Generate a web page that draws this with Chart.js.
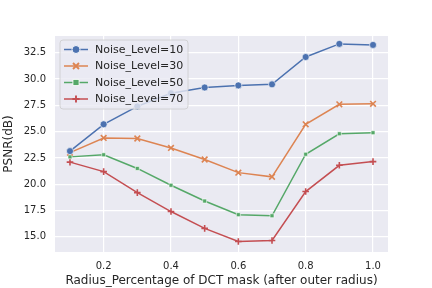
<!DOCTYPE html>
<html>
<head>
<meta charset="utf-8">
<script src="https://cdn.jsdelivr.net/npm/chart.js@4"></script>
<style>
  html, body { margin: 0; padding: 0; background: #fff; }
  #wrap { width: 432px; height: 288px; }
</style>
</head>
<body>
<div id="wrap"><canvas id="chart" width="432" height="288"></canvas></div>
<script>
// ── Data ──
const radius = [0.1, 0.2, 0.3, 0.4, 0.5, 0.6, 0.7, 0.8, 0.9, 1.0];
const noise10 = [23.15, 25.7, 27.4, 28.65, 29.2, 29.4, 29.5, 32.1, 33.35, 33.25];
const noise30 = [23.0, 24.4, 24.35, 23.45, 22.35, 21.1, 20.7, 25.7, 27.6, 27.65];
const noise50 = [22.6, 22.8, 21.5, 19.9, 18.4, 17.1, 17.0, 22.85, 24.8, 24.9];
const noise70 = [22.1, 21.2, 19.2, 17.4, 15.8, 14.55, 14.65, 19.3, 21.8, 22.15];
const xTicks = [0.2, 0.4, 0.6, 0.8, 1.0];
const yTicks = [15.0, 17.5, 20.0, 22.5, 25.0, 27.5, 30.0, 32.5];

const FONT = 'DejaVu Sans';
const TXT = '#262626';

const series = [
  { label: 'Noise_Level=10', data: noise10, color: '#4c72b0', style: 'circle', r: 3.5 },
  { label: 'Noise_Level=30', data: noise30, color: '#dd8452', style: 'crossRot', r: 4 },
  { label: 'Noise_Level=50', data: noise50, color: '#55a868', style: 'rect', r: 2.8 },
  { label: 'Noise_Level=70', data: noise70, color: '#c44e52', style: 'cross', r: 3.3 },
];

const isCross = s => s.style === 'cross' || s.style === 'crossRot';
const markerBorder = s => isCross(s) ? s.color : '#ffffff';
const markerWidth = s => isCross(s) ? 1.6 : 0.6;

// ── Plot background ──
const bgPlugin = {
  id: 'plotBg',
  beforeDraw(chart) {
    const { ctx, chartArea: a } = chart;
    ctx.save();
    ctx.fillStyle = '#eaeaf2';
    ctx.fillRect(a.left, a.top, a.right - a.left, a.bottom - a.top);
    ctx.restore();
  }
};

// ── Legend box drawn inside the plot, top-left ──
function roundRect(ctx, x, y, w, h, r) {
  ctx.beginPath();
  ctx.moveTo(x + r, y);
  ctx.arcTo(x + w, y, x + w, y + h, r);
  ctx.arcTo(x + w, y + h, x, y + h, r);
  ctx.arcTo(x, y + h, x, y, r);
  ctx.arcTo(x, y, x + w, y, r);
  ctx.closePath();
}
const legendPlugin = {
  id: 'boxLegend',
  afterDatasetsDraw(chart) {
    const { ctx, chartArea: a } = chart;
    const x0 = a.left + 5, y0 = a.top + 4;
    const w = 128, h = 69;
    ctx.save();
    roundRect(ctx, x0, y0, w, h, 3);
    ctx.fillStyle = 'rgba(234,234,242,0.8)';
    ctx.fill();
    ctx.strokeStyle = '#cccccc';
    ctx.lineWidth = 0.8;
    ctx.stroke();
    ctx.font = '11px ' + FONT;
    ctx.textBaseline = 'middle';
    series.forEach((s, i) => {
      const cy = y0 + 9.5 + i * 16.5;
      const mx = x0 + 16;
      ctx.strokeStyle = s.color;
      ctx.lineWidth = 1.5;
      ctx.beginPath();
      ctx.moveTo(x0 + 4, cy);
      ctx.lineTo(x0 + 28, cy);
      ctx.stroke();
      // marker, a touch larger than in the plot
      ctx.fillStyle = s.color;
      ctx.strokeStyle = markerBorder(s);
      ctx.lineWidth = markerWidth(s) + 0.3;
      ctx.beginPath();
      if (s.style === 'circle') {
        ctx.arc(mx, cy, s.r + 0.5, 0, Math.PI * 2);
        ctx.fill(); ctx.stroke();
      } else if (s.style === 'rect') {
        const r = s.r + 0.3;
        ctx.rect(mx - r, cy - r, 2 * r, 2 * r);
        ctx.fill(); ctx.stroke();
      } else if (s.style === 'crossRot') {
        const r = 3;
        ctx.moveTo(mx - r, cy - r); ctx.lineTo(mx + r, cy + r);
        ctx.moveTo(mx - r, cy + r); ctx.lineTo(mx + r, cy - r);
        ctx.stroke();
      } else {
        const r = 3.6;
        ctx.moveTo(mx - r, cy); ctx.lineTo(mx + r, cy);
        ctx.moveTo(mx, cy - r); ctx.lineTo(mx, cy + r);
        ctx.stroke();
      }
      ctx.fillStyle = TXT;
      ctx.fillText(s.label, x0 + 35, cy + 0.5);
    });
    ctx.restore();
  }
};

// ── Chart ──
new Chart(document.getElementById('chart'), {
  type: 'line',
  data: {
    datasets: series.map(s => ({
      label: s.label,
      data: radius.map((x, i) => ({ x, y: s.data[i] })),
      borderColor: s.color,
      backgroundColor: s.color,
      borderWidth: 1.5,
      pointStyle: s.style,
      pointRadius: s.r,
      pointBorderColor: markerBorder(s),
      pointBorderWidth: markerWidth(s),
      pointBackgroundColor: s.color,
      tension: 0,
      fill: false,
    }))
  },
  options: {
    responsive: false,
    animation: false,
    layout: { padding: { top: 36, right: 44, left: 0, bottom: 0 } },
    plugins: { legend: { display: false }, tooltip: { enabled: false } },
    scales: {
      x: {
        type: 'linear',
        min: 0.0555,
        max: 1.0445,
        afterBuildTicks: axis => { axis.ticks = xTicks.map(v => ({ value: v })); },
        afterFit: axis => { axis.height = 36; },
        grid: { color: '#ffffff', lineWidth: 1.2, drawTicks: false },
        border: { display: false },
        ticks: {
          color: TXT, padding: 8, maxRotation: 0,
          font: { family: FONT, size: 10 },
          callback: v => v.toFixed(1)
        },
        title: {
          display: true, text: 'Radius_Percentage of DCT mask (after outer radius)',
          color: TXT, font: { family: FONT, size: 12 }, padding: { top: 0, bottom: 0 }
        }
      },
      y: {
        min: 13.55,
        max: 34.1,
        afterBuildTicks: axis => { axis.ticks = yTicks.map(v => ({ value: v })); },
        afterFit: axis => { axis.width = 55; },
        grid: { color: '#ffffff', lineWidth: 1.2, drawTicks: false },
        border: { display: false },
        ticks: {
          color: TXT, padding: 9,
          font: { family: FONT, size: 10 },
          callback: v => v.toFixed(1)
        },
        title: {
          display: true, text: 'PSNR(dB)',
          color: TXT, font: { family: FONT, size: 12 }, padding: { top: 2, bottom: 0 }
        }
      }
    }
  },
  plugins: [bgPlugin, legendPlugin]
});
</script>
</body>
</html>
